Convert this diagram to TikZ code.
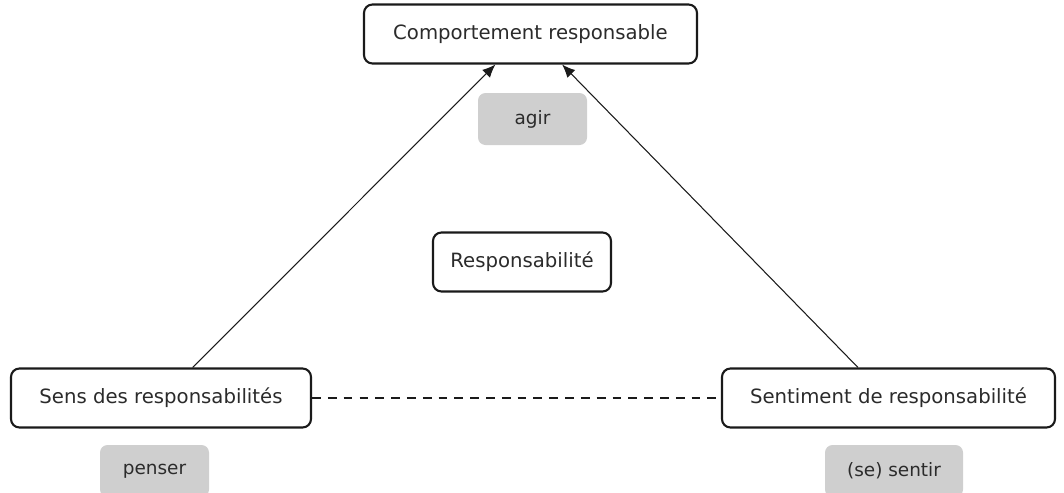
\documentclass[tikz,border=0pt]{standalone}
\usepackage{fontspec}
\setmainfont{DejaVu Sans}
\definecolor{Ink}{HTML}{1A1A1A}
\definecolor{Label}{HTML}{2B2B2B}
\definecolor{Chip}{HTML}{CFCFCF}
\usepackage{tikz}
\usetikzlibrary{arrows.meta,positioning}
\tikzset{
    % White boxes with a heavy rounded frame
    conceptbox/.style={
        rectangle,
        rounded corners=0.17cm,
        draw=Ink,
        fill=white,
        line width=1.2pt,
        minimum height=1.18cm,
        align=center,
        text=Label,
        font=\fontsize{11.2}{13}\selectfont
    },
    % Grey verb tags
    verbtag/.style={
        rectangle,
        rounded corners=0.15cm,
        draw=none,
        fill=Chip,
        minimum width=2.18cm,
        minimum height=1.04cm,
        align=center,
        text=Label,
        font=\fontsize{10.5}{12}\selectfont
    },
    arrow/.style={
        -{Latex[length=2.6mm,width=2.2mm]},
        line width=0.6pt,
        color=Ink
    },
    dashedline/.style={
        dashed,
        dash pattern=on 5pt off 4pt,
        line width=0.6pt,
        color=Ink
    }
}
\begin{document}
\begin{tikzpicture}
    \useasboundingbox (0,0) rectangle (21.28,-9.84);
    \clip (0,0) rectangle (21.28,-9.84);

    % Top
    \node[conceptbox, minimum width=6.66cm] (comp) at (10.61,-0.68) {Comportement responsable};
    \node[verbtag] (agir) at (10.65,-2.38) {agir};

    % Centre
    \node[conceptbox, minimum width=3.56cm] (resp) at (10.44,-5.24) {Responsabilité};

    % Bottom left
    \node[conceptbox, minimum width=6.0cm] (sens) at (3.22,-7.96) {Sens des responsabilités};
    \node[verbtag] (penser) at (3.09,-9.42) {penser};

    % Bottom right
    \node[conceptbox, minimum width=6.66cm] (sent) at (17.77,-7.96) {Sentiment de responsabilité};
    \node[verbtag, minimum width=2.76cm] (sentir) at (17.88,-9.42) {(se) sentir};

    % Arrows
    \draw[arrow] (sens.44) -- (comp.221);
    \draw[arrow] (sent.135) -- (comp.316);
    \draw[dashedline] (sens.east) -- (sent.west);
\end{tikzpicture}
\end{document}
